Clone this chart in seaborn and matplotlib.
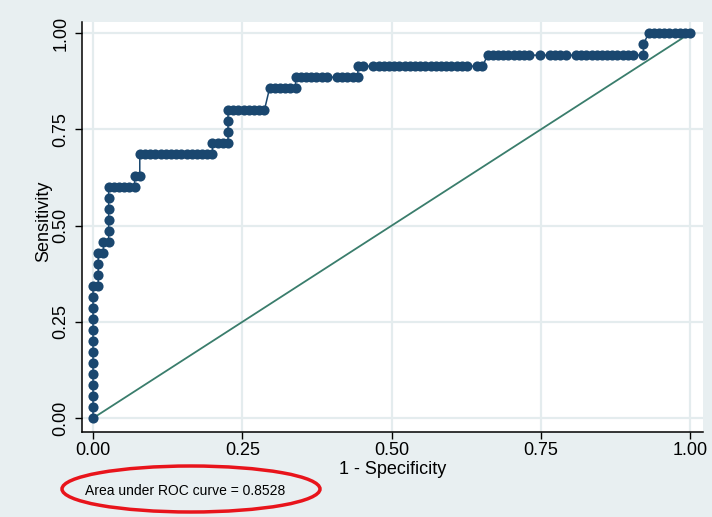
import matplotlib
matplotlib.use("Agg")
import matplotlib.pyplot as plt
from matplotlib.patches import Ellipse
import seaborn as sns
import pandas as pd

# ---- data (counts) ----
n_neg = 115
n_pos = 35
fp_counts = [0, 0, 0, 0, 0, 0, 0, 0, 0, 0, 0, 0, 0,
             1, 1, 1, 1,
             2, 2,
             3, 3, 3, 3, 3, 3,
             4, 5, 6, 7, 8,
             8, 9,
             9,
             10, 11, 12, 13, 14, 15, 16, 17, 18, 19, 20, 21, 22, 23,
             23, 24, 25, 26,
             26, 26, 26,
             27, 28, 29, 30, 31, 32, 33,
             34,
             35, 36, 37, 38, 39,
             39, 40, 41, 42, 43, 44, 45, 47, 48, 49, 50, 51,
             51, 52, 54, 55, 56, 57, 58, 59, 60, 61, 62, 63, 64, 65, 66, 67, 68,
             69, 70, 71, 72, 74, 75,
             76, 77, 78, 79, 80, 81, 82, 83, 84, 86, 88, 89, 90, 91, 93, 94, 95,
             96, 97, 98, 99, 100, 101, 102, 103, 104, 106,
             106,
             107, 108, 109, 110, 111, 112, 113, 114, 115]
tp_counts = [0, 1, 2, 3, 4, 5, 6, 7, 8, 9, 10, 11, 12,
             12, 13, 14, 15,
             15, 16,
             16, 17, 18, 19, 20, 21,
             21, 21, 21, 21, 21,
             22, 22,
             24,
             24, 24, 24, 24, 24, 24, 24, 24, 24, 24, 24, 24, 24, 24,
             25, 25, 25, 25,
             26, 27, 28,
             28, 28, 28, 28, 28, 28, 28,
             30,
             30, 30, 30, 30, 30,
             31, 31, 31, 31, 31, 31, 31, 31, 31, 31, 31, 31,
             32, 32, 32, 32, 32, 32, 32, 32, 32, 32, 32, 32, 32, 32, 32, 32, 32,
             32, 32, 32, 32, 32, 32,
             33, 33, 33, 33, 33, 33, 33, 33, 33, 33, 33, 33, 33, 33, 33, 33, 33,
             33, 33, 33, 33, 33, 33, 33, 33, 33, 33,
             34,
             35, 35, 35, 35, 35, 35, 35, 35, 35]
ref_x = [0.0, 1.0]
ref_y = [0.0, 1.0]
ticks = [0.0, 0.25, 0.5, 0.75, 1.0]
tick_labels = ["0.00", "0.25", "0.50", "0.75", "1.00"]
auc_text = "Area under ROC curve = 0.8528"

df = pd.DataFrame({"fpr": [v / n_neg for v in fp_counts],
                   "tpr": [v / n_pos for v in tp_counts]})

sns.set_theme(style="white")
plt.rcParams["font.family"] = ["Liberation Sans", "DejaVu Sans"]

bg = "#E8EFF1"
fig = plt.figure(figsize=(7.12, 5.17), dpi=100, facecolor=bg)
ax = fig.add_axes([82 / 712, 1 - 432 / 517, (703 - 82) / 712, (432 - 22) / 517])
ax.set_facecolor("white")

ax.set_xlim(-0.0185, 1.0215)
ax.set_ylim(-0.036, 1.029)

ax.set_xticks(ticks)
ax.set_xticklabels(tick_labels)
ax.set_yticks(ticks)
ax.set_yticklabels(tick_labels, rotation=90, va="center")
ax.grid(True, color="#E4ECEE", linewidth=1.6)
ax.set_axisbelow(True)

sns.lineplot(x=ref_x, y=ref_y, ax=ax, color="#3A7D6C", linewidth=1.3,
             estimator=None, sort=False, zorder=2)
sns.lineplot(data=df, x="fpr", y="tpr", ax=ax, color="#1A476F",
             linewidth=1.1, marker="o", markersize=7.3, markeredgewidth=0,
             estimator=None, sort=False, zorder=3)

for s in ["top", "right"]:
    ax.spines[s].set_visible(False)
for s in ["left", "bottom"]:
    ax.spines[s].set_color("black")
    ax.spines[s].set_linewidth(1.1)

ax.tick_params(axis="both", which="both", direction="out", length=5, width=1,
               color="black", labelsize=13, labelcolor="black",
               left=True, bottom=True)
ax.tick_params(axis="y", pad=4)
ax.tick_params(axis="x", pad=2)

ax.set_xlabel("1 - Specificity", fontsize=13, color="black", va="center")
ax.set_ylabel("Sensitivity", fontsize=13, color="black", va="center")
ax.xaxis.set_label_coords(0.5, -0.091)
ax.yaxis.set_label_coords(-0.062, 0.515)

fig.text(85 / 712, 1 - 491 / 517, auc_text, fontsize=10, color="black",
         ha="left", va="center")
fig.add_artist(Ellipse((191 / 712, 1 - 489 / 517), 258 / 712, 46 / 517,
                       transform=fig.transFigure, fill=False,
                       edgecolor="#E8141B", linewidth=2.5))

fig.savefig("out.png", dpi=100, facecolor=bg)
